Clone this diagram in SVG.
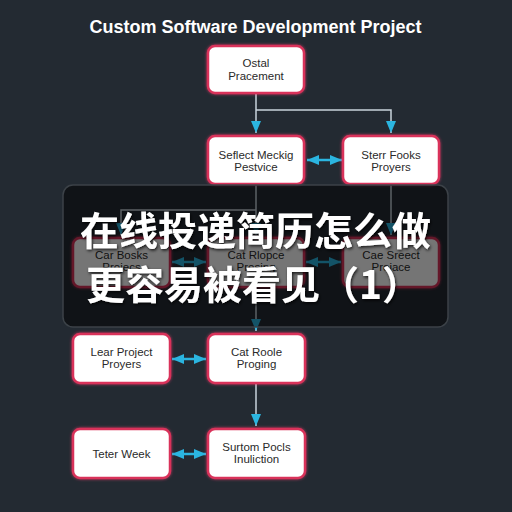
<svg xmlns="http://www.w3.org/2000/svg" width="512" height="512" viewBox="0 0 512 512">
<defs>
<filter id="glow" x="-20%" y="-20%" width="140%" height="140%">
<feDropShadow dx="0" dy="0" stdDeviation="1.8" flood-color="#ff3c6e" flood-opacity="0.7"/>
</filter>
<filter id="tshadow" x="-10%" y="-20%" width="120%" height="140%">
<feDropShadow dx="1" dy="1.5" stdDeviation="1.5" flood-color="#000" flood-opacity="0.8"/>
</filter>
<marker id="ah" viewBox="0 0 12 10" refX="12" refY="5" markerWidth="12" markerHeight="10" markerUnits="userSpaceOnUse" orient="auto-start-reverse">
<path d="M0,0 L12,5 L0,10 Z" fill="#2bb5e0"/>
</marker>
</defs>
<style>
.node rect{fill:#ffffff;stroke:#d9325a;stroke-width:2.5;filter:url(#glow)}
.node text{font-family:"Liberation Sans",Arial,sans-serif;font-size:11.5px;fill:#2a2a2a;text-anchor:middle}
.flow{fill:none;stroke:#c9d3dc;stroke-width:1.5}
.bi{fill:none;stroke:#2bb5e0;stroke-width:2.5;marker-start:url(#ah);marker-end:url(#ah)}
.down{marker-end:url(#ah)}
.cn{font-family:"Noto Sans CJK SC",sans-serif;font-weight:700;font-size:39px;fill:#ffffff;filter:url(#tshadow)}
</style>
<rect x="0" y="0" width="512" height="512" fill="#232a32"/>
<text x="255.5" y="33" font-family="Liberation Sans,Arial,sans-serif" font-size="18" font-weight="700" fill="#ffffff" text-anchor="middle">Custom Software Development Project</text>

<g id="connectors">
<path class="flow down" d="M256 110 H391 V133"/>
<path class="flow down" d="M256 93 V133"/>
<path class="flow down" d="M256 184 V235"/>
<path class="flow down" d="M256 210 H121 V235"/>
<path class="flow down" d="M391 184 V235"/>
<path class="flow down" d="M256 287 V331"/>
<path class="flow down" d="M256 383 V426"/>
<path class="bi" d="M307 160 H342"/>
<path class="bi" d="M172 262 H206"/>
<path class="bi" d="M306 262 H341"/>
<path class="bi" d="M172 359 H206"/>
<path class="bi" d="M172 454 H206"/>
</g>

<g id="n1" class="node"><rect x="208" y="46" width="96" height="47" rx="7"/><text x="256" y="67">Ostal</text><text x="256" y="80">Pracement</text></g>
<g id="n2" class="node"><rect x="208" y="136" width="96" height="48" rx="7"/><text x="256" y="159">Seflect Meckig</text><text x="256" y="171">Pestvice</text></g>
<g id="n3" class="node"><rect x="343" y="136" width="96" height="48" rx="7"/><text x="391" y="159">Sterr Fooks</text><text x="391" y="171">Proyers</text></g>
<g id="n4" class="node"><rect x="73" y="238" width="97" height="49" rx="7"/><text x="121.5" y="259">Car Bosks</text><text x="121.5" y="271">Projecs</text></g>
<g id="n5" class="node"><rect x="208" y="238" width="96" height="49" rx="7"/><text x="256" y="259">Cat Rlopce</text><text x="256" y="271">Prosing</text></g>
<g id="n6" class="node"><rect x="343" y="238" width="96" height="49" rx="7"/><text x="391" y="259">Cae Sreect</text><text x="391" y="271">Proiace</text></g>
<g id="n7" class="node"><rect x="73" y="334" width="97" height="49" rx="7"/><text x="121.5" y="356">Lear Project</text><text x="121.5" y="368">Proyers</text></g>
<g id="n8" class="node"><rect x="208" y="334" width="97" height="49" rx="7"/><text x="256.5" y="356">Cat Roole</text><text x="256.5" y="368">Proging</text></g>
<g id="n9" class="node"><rect x="73" y="429" width="97" height="49" rx="7"/><text x="121.5" y="458">Teter Week</text></g>
<g id="n10" class="node"><rect x="208" y="429" width="97" height="49" rx="7"/><text x="256.5" y="451">Surtom Pocls</text><text x="256.5" y="463">Inuliction</text></g>

<g id="overlay">
<rect x="63" y="185" width="385" height="142" rx="10" fill="#000000" fill-opacity="0.54" stroke="#3c4248" stroke-width="1.5"/>
<text class="cn" x="80" y="245">在线投递简历怎么做</text>
<text class="cn" x="86" y="299">更容易被看见（1）</text>
</g>
</svg>
